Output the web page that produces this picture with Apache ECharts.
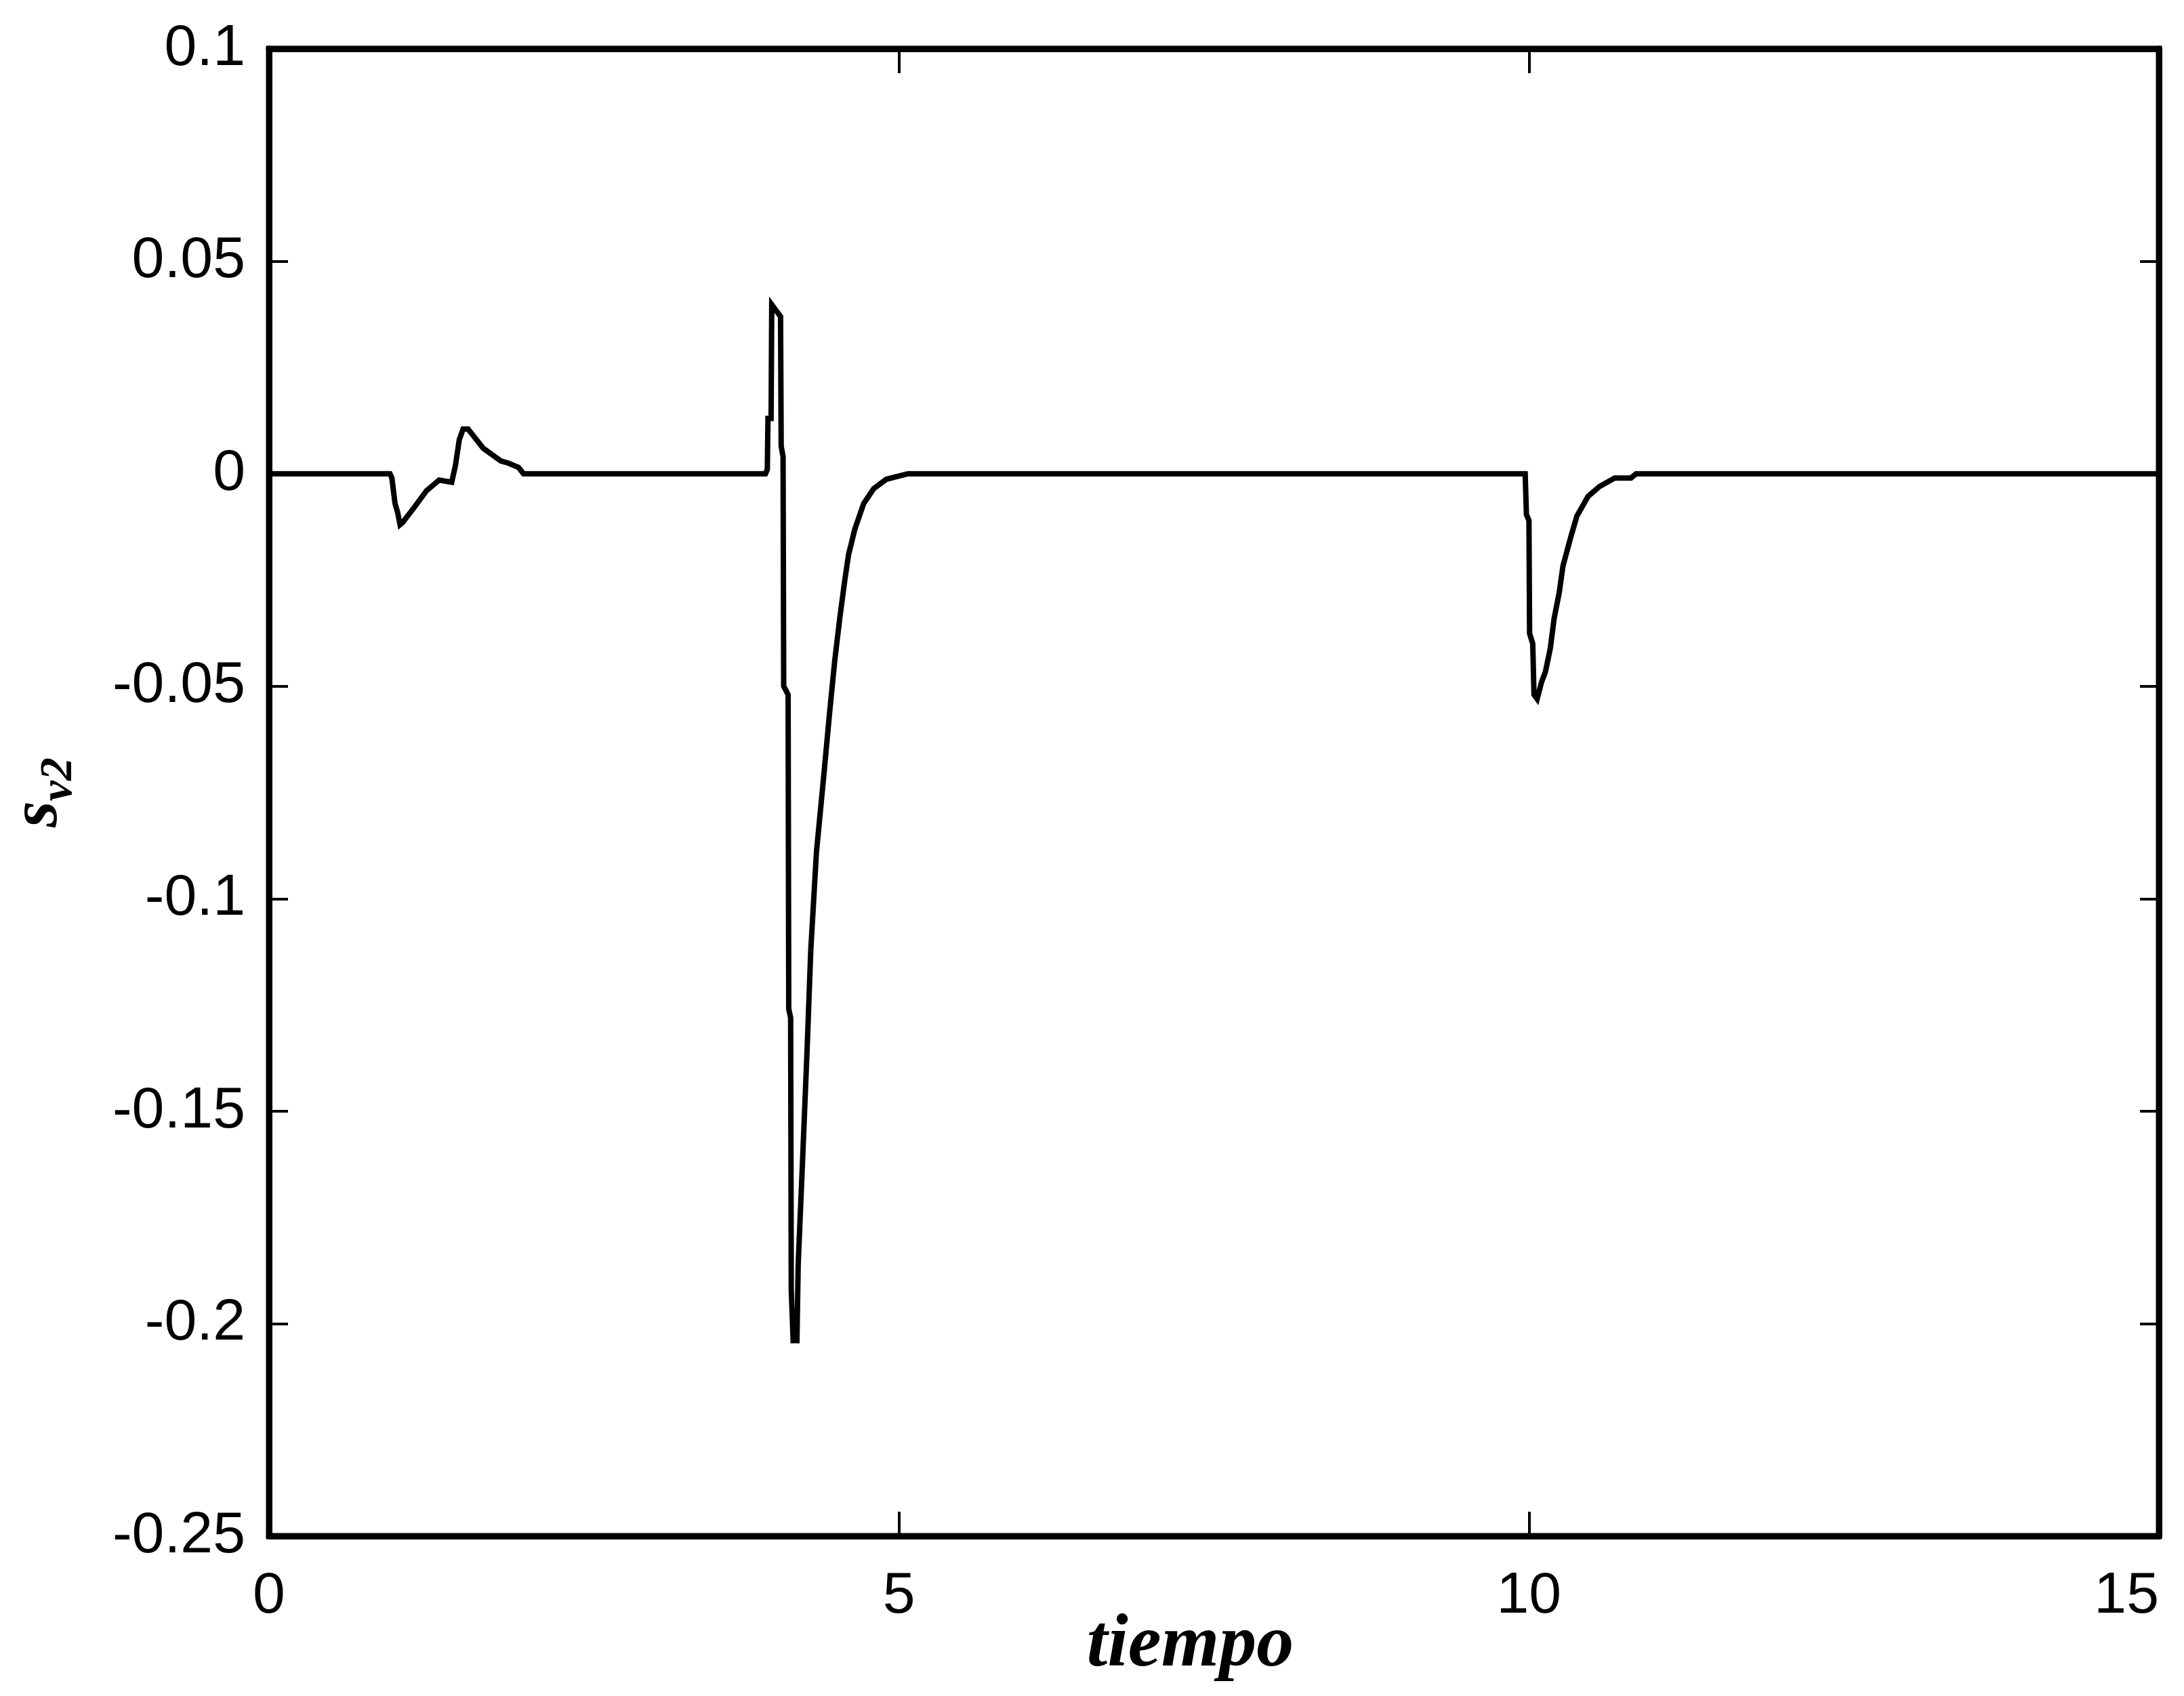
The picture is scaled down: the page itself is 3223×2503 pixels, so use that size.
<!DOCTYPE html>
<html>
<head>
<meta charset="utf-8">
<script src="https://cdn.jsdelivr.net/npm/echarts@6/dist/echarts.min.js"></script>
<style>
  html, body { margin: 0; padding: 0; background: #fff; }
  #chart { width: 3223px; height: 2503px; }
</style>
</head>
<body>
<div id="chart"></div>
<script>
// tiempo (s) and s_v2
var tiempo = [
  0, 0.96, 0.975, 1.0, 1.02, 1.04, 1.06, 1.15, 1.25, 1.35, 1.45, 1.48, 1.51, 1.54, 1.58, 1.7, 1.84, 1.9, 1.98, 2.02,
  3.94, 3.955, 3.96, 3.985, 3.99, 4.06, 4.065, 4.08, 4.085, 4.12, 4.125, 4.14, 4.145, 4.16, 4.19, 4.2,
  4.23, 4.27, 4.3, 4.345, 4.4, 4.45, 4.49, 4.53, 4.57, 4.6, 4.65, 4.72, 4.8, 4.9, 5.07,
  9.97, 9.98, 10.0, 10.005, 10.03, 10.04, 10.065, 10.1, 10.13, 10.17, 10.2, 10.24, 10.27, 10.33, 10.38,
  10.47, 10.56, 10.68, 10.81, 10.85, 15
];
var sv2 = [
  0, 0, -0.001, -0.007, -0.009, -0.012, -0.0115, -0.008, -0.004, -0.0015, -0.002, 0.002, 0.008, 0.0105, 0.0105, 0.006, 0.003, 0.0025, 0.0015, 0,
  0, 0.001, 0.013, 0.013, 0.0398, 0.037, 0.0065, 0.004, -0.05, -0.052, -0.126, -0.128, -0.192, -0.204, -0.204, -0.186,
  -0.165, -0.136, -0.112, -0.089, -0.072, -0.056, -0.044, -0.034, -0.025, -0.019, -0.013, -0.007, -0.0035, -0.0013, 0,
  0, -0.0096, -0.011, -0.0376, -0.04, -0.052, -0.053, -0.049, -0.0467, -0.041, -0.034, -0.028, -0.0217, -0.0151, -0.01,
  -0.0053, -0.003, -0.001, -0.001, 0, 0
];
var xTicks = [0, 5, 10, 15];
var yTicks = [0.1, 0.05, 0, -0.05, -0.1, -0.15, -0.2, -0.25];

var chart = echarts.init(document.getElementById('chart'));

var pts = tiempo.map(function (t, i) { return [t, sv2[i]]; });
var labelFont = { color: '#000', fontFamily: 'Liberation Sans', fontSize: 86 };
var frameLine = { show: true, onZero: false, lineStyle: { color: '#000', width: 9 } };

chart.setOption({
  animation: false,
  backgroundColor: '#fff',
  grid: {
    left: 397, right: 37, top: 72, bottom: 236,
    outerBoundsMode: 'none',
    show: true, borderColor: '#000', borderWidth: 9, backgroundColor: '#fff'
  },
  xAxis: [{
    type: 'value',
    min: xTicks[0], max: xTicks[xTicks.length - 1], interval: 5,
    axisLine: frameLine,
    axisTick: { show: true, inside: true, length: 36, lineStyle: { color: '#000', width: 4 } },
    axisLabel: Object.assign({ margin: 46, alignMaxLabel: 'right' }, labelFont),
    splitLine: { show: false },
    name: 'tiempo',
    nameLocation: 'middle',
    nameMoveOverlap: false,
    nameGap: 108,
    nameTextStyle: {
      fontFamily: 'Liberation Serif', fontStyle: 'italic', fontWeight: 'bold', fontSize: 110, color: '#000',
      padding: [0, 70, 0, 0]
    }
  }, {
    type: 'value', position: 'top',
    min: xTicks[0], max: xTicks[xTicks.length - 1], interval: 5,
    axisLine: frameLine,
    axisTick: { show: true, inside: true, length: 36, lineStyle: { color: '#000', width: 4 } },
    axisLabel: { show: false },
    splitLine: { show: false }
  }],
  yAxis: [{
    type: 'value',
    min: yTicks[yTicks.length - 1], max: yTicks[0], interval: 0.05,
    axisLine: frameLine,
    axisTick: { show: true, inside: true, length: 28, lineStyle: { color: '#000', width: 4 } },
    axisLabel: Object.assign({ margin: 35, formatter: function (v) { return +v.toFixed(2) + ''; } }, labelFont),
    splitLine: { show: false },
    name: '{s|s}{v|v2}',
    nameLocation: 'middle',
    nameRotate: 90,
    nameGap: 290,
    nameTextStyle: {
      color: '#000',
      rich: {
        s: { fontFamily: 'Liberation Serif', fontStyle: 'italic', fontWeight: 'bold', fontSize: 100, color: '#000', verticalAlign: 'bottom' },
        v: { fontFamily: 'Liberation Serif', fontStyle: 'italic', fontWeight: 'bold', fontSize: 68, color: '#000', verticalAlign: 'bottom', padding: [0, 0, -14, 0] }
      }
    }
  }, {
    type: 'value', position: 'right',
    min: yTicks[yTicks.length - 1], max: yTicks[0], interval: 0.05,
    axisLine: frameLine,
    axisTick: { show: true, inside: true, length: 28, lineStyle: { color: '#000', width: 4 } },
    axisLabel: { show: false },
    splitLine: { show: false }
  }],
  series: [{
    type: 'line',
    data: pts,
    showSymbol: false,
    lineStyle: { color: '#000', width: 8, join: 'miter' },
    clip: true
  }]
});
</script>
</body>
</html>
